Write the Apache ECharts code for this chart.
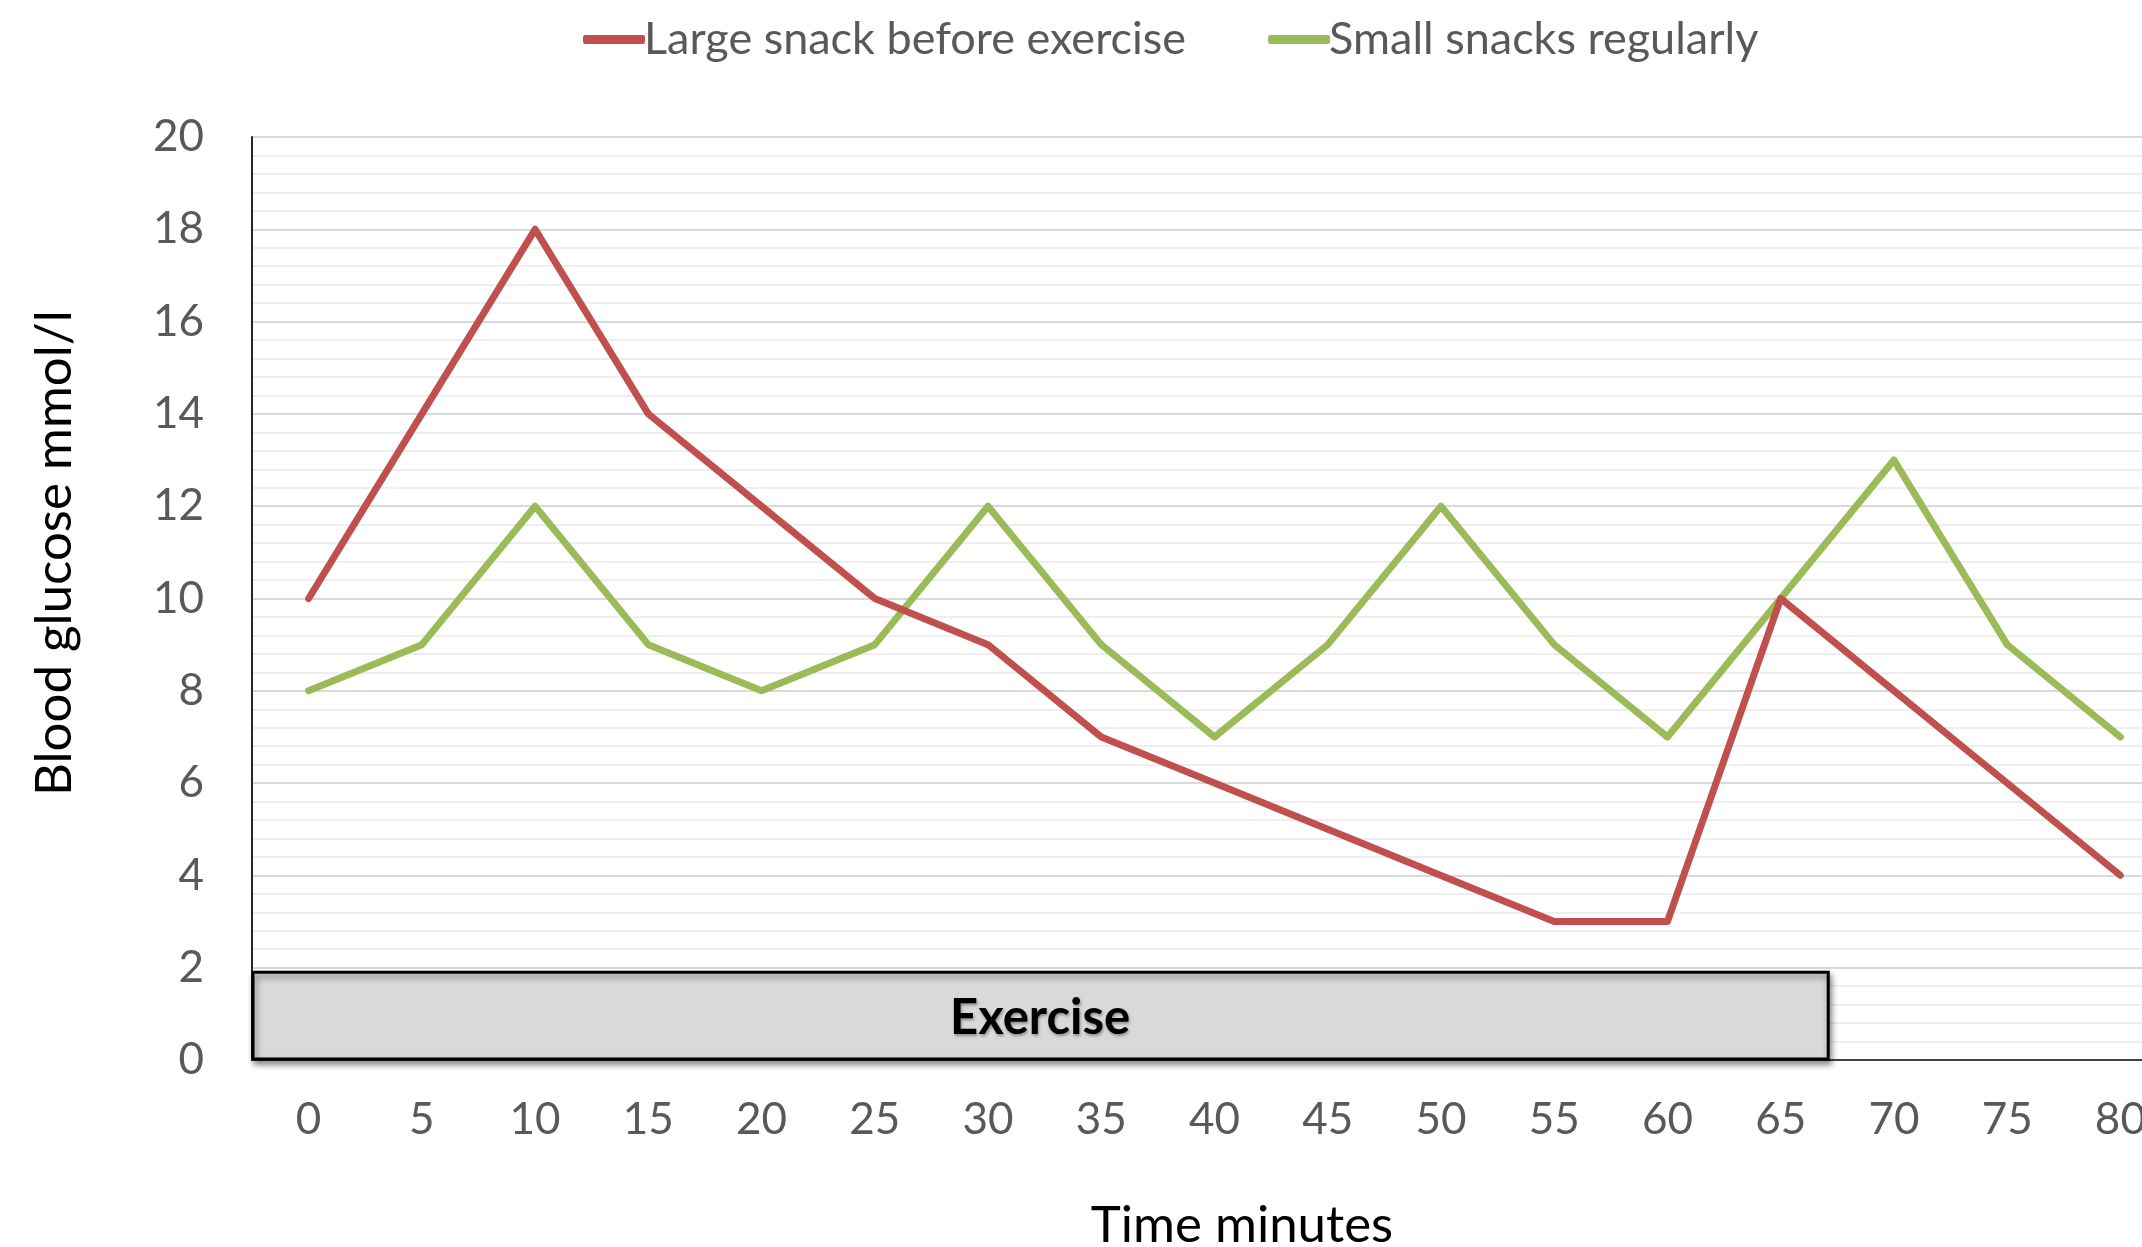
<!DOCTYPE html>
<html>
<head>
<meta charset="utf-8">
<title>Blood glucose during exercise</title>
<script src="https://cdn.jsdelivr.net/npm/echarts@6/dist/echarts.min.js"></script>
<style>
  html, body { margin: 0; padding: 0; background: #fff; overflow: hidden; }
  #chart { width: 2142px; height: 1247px; }
</style>
</head>
<body>
<div id="chart"></div>
<script>
// Time axis (minutes)
const minutes = ['0', '5', '10', '15', '20', '25', '30', '35', '40', '45', '50', '55', '60', '65', '70', '75', '80'];

// Blood glucose readings, mmol/l
const largeSnack = [10, 14, 18, 14, 12, 10, 9, 7, 6, 5, 4, 3, 3, 10, 8, 6, 4];
const smallSnacks = [8, 9, 12, 9, 8, 9, 12, 9, 7, 9, 12, 9, 7, 10, 13, 9, 7];

// Exercise period: [start minute, end minute, bar height]
const exercisePeriod = [-2.5, 67.1, 1.9];

const FONT = 'Lato, "Open Sans", sans-serif';
const chart = echarts.init(document.getElementById('chart'));

chart.setOption({
  animation: false,
  backgroundColor: '#ffffff',
  textStyle: { fontFamily: FONT },
  legend: {
    top: 12,
    left: 578,
    itemWidth: 62,
    itemHeight: 9,
    itemGap: 82,
    icon: 'roundRect',
    textStyle: { fontSize: 45, color: '#595959', fontFamily: FONT, padding: [0, 0, 0, -6] },
    data: ['Large snack before exercise', 'Small snacks regularly']
  },
  // plot area runs past the right edge of the canvas
  grid: { left: 252, top: 137, width: 1925, bottom: 187, containLabel: false, outerBoundsMode: 'none' },
  xAxis: [
    {
      type: 'category',
      data: minutes,
      boundaryGap: true,
      axisLine: { show: true, lineStyle: { color: '#404040', width: 2 } },
      axisTick: { show: false },
      axisLabel: { fontSize: 44, color: '#595959', margin: 38, fontFamily: FONT },
      splitLine: { show: false }
    },
    {
      // helper scale in minutes, aligned with the category bands
      type: 'value',
      min: -2.5,
      max: 82.5,
      show: false
    }
  ],
  yAxis: {
    type: 'value',
    min: 0,
    max: 20,
    interval: 2,
    axisLine: { show: true, onZero: false, lineStyle: { color: '#262626', width: 2 } },
    axisTick: { show: false },
    axisLabel: { fontSize: 44, color: '#595959', margin: 48, fontFamily: FONT },
    splitLine: { show: true, lineStyle: { color: '#d9d9d9', width: 2 } },
    minorTick: { show: false, splitNumber: 5 },
    minorSplitLine: { show: true, lineStyle: { color: '#eeeeee', width: 2 } }
  },
  graphic: [
    {
      type: 'text',
      rotation: Math.PI / 2,
      style: {
        text: 'Blood glucose mmol/l',
        fontSize: 51,
        fontFamily: FONT,
        fill: '#000000',
        textAlign: 'center',
        textVerticalAlign: 'middle'
      },
      x: 55,
      y: 553
    },
    {
      type: 'text',
      style: {
        text: 'Time minutes',
        fontSize: 51,
        fontFamily: FONT,
        fill: '#000000',
        textAlign: 'center',
        textVerticalAlign: 'middle'
      },
      x: 1242,
      y: 1226
    }
  ],
  series: [
    {
      name: 'Exercise',
      type: 'custom',
      xAxisIndex: 1,
      yAxisIndex: 0,
      z: 3,
      silent: true,
      data: [exercisePeriod],
      renderItem: function (params, api) {
        const p0 = api.coord([api.value(0), 0]);
        const p1 = api.coord([api.value(1), api.value(2)]);
        return {
          type: 'group',
          children: [
            {
              type: 'rect',
              shape: { x: p0[0] + 1, y: p1[1], width: p1[0] - p0[0] - 1, height: p0[1] - p1[1] - 1 },
              style: {
                fill: '#d9d9d9',
                stroke: '#000000',
                lineWidth: 3,
                shadowBlur: 6,
                shadowOffsetX: 2,
                shadowOffsetY: 4,
                shadowColor: 'rgba(0,0,0,0.45)'
              }
            },
            {
              type: 'text',
              x: (p0[0] + p1[0]) / 2,
              y: (p0[1] + p1[1]) / 2 + 2,
              style: {
                text: 'Exercise',
                fontSize: 49,
                fontWeight: 'bold',
                fontFamily: FONT,
                fill: '#000000',
                align: 'center',
                verticalAlign: 'middle',
                textShadowColor: 'rgba(0,0,0,0.35)',
                textShadowBlur: 3,
                textShadowOffsetX: 1,
                textShadowOffsetY: 2
              }
            }
          ]
        };
      }
    },
    {
      name: 'Small snacks regularly',
      type: 'line',
      data: smallSnacks,
      symbol: 'none',
      z: 4,
      color: '#9bbb59',
      lineStyle: { color: '#9bbb59', width: 7, cap: 'round', join: 'round' }
    },
    {
      name: 'Large snack before exercise',
      type: 'line',
      data: largeSnack,
      symbol: 'none',
      z: 5,
      color: '#c0504d',
      lineStyle: { color: '#c0504d', width: 7, cap: 'round', join: 'round' }
    }
  ]
});
</script>
</body>
</html>
